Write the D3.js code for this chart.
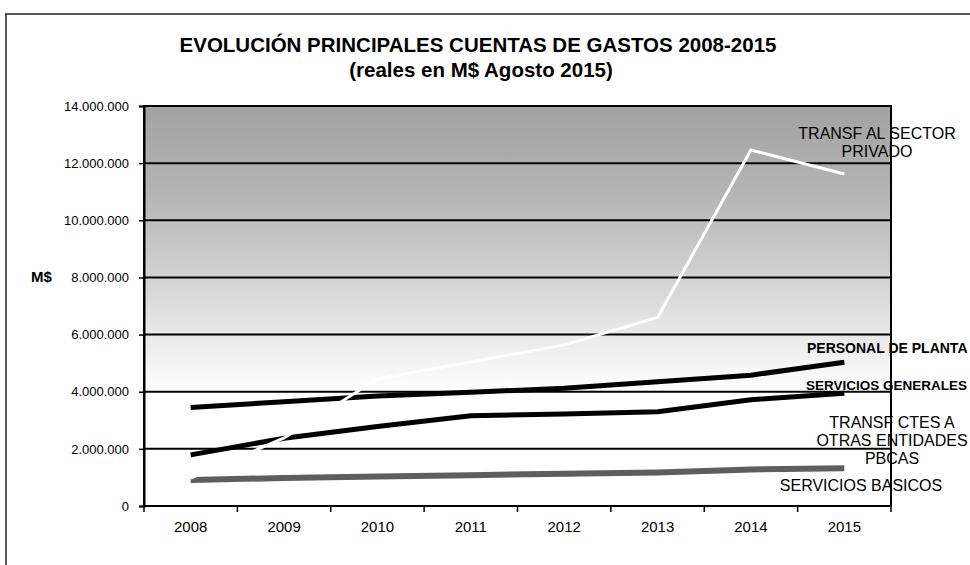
<!DOCTYPE html>
<html>
<head>
<meta charset="utf-8">
<script src="https://cdn.jsdelivr.net/npm/d3@7"></script>
<style>
  body { margin: 0; background: #fff; }
  text { font-family: "Liberation Sans", Arial, sans-serif; fill: #000; }
</style>
</head>
<body>
<svg id="chart"></svg>
<script>
// Data (M$ reales Agosto 2015).
const years = ['2008', '2009', '2010', '2011', '2012', '2013', '2014', '2015'];
const transfPrivado = [980000, 2380000, 4450000, 5040000, 5640000, 6600000, 12460000, 11620000];
const personalPlanta = [3450000, 3650000, 3850000, 3980000, 4120000, 4350000, 4580000, 5030000];
const serviciosGenerales = [1790000, 2370000, 2780000, 3160000, 3220000, 3300000, 3720000, 3950000];
const serviciosBasicos = [910000, 980000, 1030000, 1080000, 1130000, 1170000, 1280000, 1320000];
const yTicks = [0, 2000000, 4000000, 6000000, 8000000, 10000000, 12000000, 14000000];

const width = 970, height = 565;
const plot = { left: 144, right: 891, top: 106, bottom: 506 };

const svg = d3.select('#chart').attr('width', width).attr('height', height);

// Number format with dots as thousands separator.
const fmt = d3.formatLocale({ decimal: ',', thousands: '.', grouping: [3], currency: ['$', ''] }).format(',d');

// Scales.
const xScale = d3.scaleBand().domain(years).range([plot.left, plot.right]).padding(0);
const yScale = d3.scaleLinear().domain([0, 14000000]).range([plot.bottom, plot.top]);
const xMid = d => xScale(d) + xScale.bandwidth() / 2;

// Page frame (scan border).
svg.append('line').attr('x1', 5).attr('x2', width).attr('y1', 14).attr('y2', 14)
  .attr('stroke', '#222').attr('stroke-width', 1.5);
svg.append('line').attr('x1', 6).attr('x2', 6).attr('y1', 14).attr('y2', height)
  .attr('stroke', '#222').attr('stroke-width', 1.5);

// Background gradient, grey at the top fading to white at 4.000.000.
const grad = svg.append('defs').append('linearGradient')
  .attr('id', 'bg').attr('gradientUnits', 'userSpaceOnUse')
  .attr('x1', 0).attr('x2', 0).attr('y1', plot.top).attr('y2', plot.bottom);
const off = v => (yScale(v) - plot.top) / (plot.bottom - plot.top);
[[14000000, '#a2a2a2'], [11000000, '#b4b4b4'], [8000000, '#d2d2d2'], [5000000, '#f4f4f4'], [4000000, '#ffffff'], [0, '#ffffff']]
  .forEach(([v, c]) => grad.append('stop').attr('offset', off(v)).attr('stop-color', c));

svg.append('rect')
  .attr('x', plot.left).attr('y', plot.top)
  .attr('width', plot.right - plot.left).attr('height', plot.bottom - plot.top)
  .attr('fill', 'url(#bg)');

// Gridlines.
svg.append('g')
  .selectAll('line')
  .data(yTicks)
  .join('line')
  .attr('x1', plot.left).attr('x2', plot.right)
  .attr('y1', d => yScale(d)).attr('y2', d => yScale(d))
  .attr('stroke', '#000').attr('stroke-width', 2);

// Plot border.
svg.append('rect')
  .attr('x', plot.left).attr('y', plot.top)
  .attr('width', plot.right - plot.left).attr('height', plot.bottom - plot.top)
  .attr('fill', 'none').attr('stroke', '#000').attr('stroke-width', 2);

// Y-Axis.
const yAxis = svg.append('g')
  .attr('transform', `translate(${plot.left},0)`)
  .call(d3.axisLeft(yScale).tickValues(yTicks).tickFormat(fmt).tickSize(5).tickPadding(10));
yAxis.select('.domain').attr('stroke-width', 2);
yAxis.selectAll('.tick line').attr('stroke-width', 1.5);
yAxis.selectAll('text').attr('font-size', 13).attr('font-family', '"Liberation Sans", Arial, sans-serif');

// X-Axis: labels at band centres, ticks at band edges.
const xAxis = svg.append('g')
  .attr('transform', `translate(0,${plot.bottom})`)
  .call(d3.axisBottom(xScale).tickSize(0).tickPadding(15));
xAxis.select('.domain').remove();
xAxis.selectAll('text').attr('font-size', 15).attr('font-family', '"Liberation Sans", Arial, sans-serif');
svg.append('g')
  .selectAll('line')
  .data(years.concat(['end']))
  .join('line')
  .attr('x1', d => d === 'end' ? plot.right : xScale(d))
  .attr('x2', d => d === 'end' ? plot.right : xScale(d))
  .attr('y1', plot.bottom).attr('y2', plot.bottom + 6)
  .attr('stroke', '#000').attr('stroke-width', 1.5);

// Lines.
const line = d3.line().x((d, i) => xMid(years[i])).y(d => yScale(d));
const series = [
  { values: serviciosBasicos, color: '#5e5e5e', width: 6 },
  { values: serviciosGenerales, color: '#000', width: 5 },
  { values: personalPlanta, color: '#000', width: 5 },
  { values: transfPrivado, color: '#fff', width: 3 },
];
series.forEach(s => {
  svg.append('path')
    .datum(s.values)
    .attr('fill', 'none')
    .attr('stroke', s.color)
    .attr('stroke-width', s.width)
    .attr('stroke-linejoin', 'miter')
    .attr('d', line);
});

// Title.
svg.append('text')
  .attr('x', 478).attr('y', 52)
  .attr('text-anchor', 'middle').attr('font-size', 20.5).attr('font-weight', 'bold')
  .text('EVOLUCIÓN PRINCIPALES CUENTAS DE GASTOS 2008-2015');
svg.append('text')
  .attr('x', 481).attr('y', 77)
  .attr('text-anchor', 'middle').attr('font-size', 20.5).attr('font-weight', 'bold')
  .text('(reales en M$ Agosto 2015)');

// Y-axis title.
svg.append('text')
  .attr('x', 31).attr('y', yScale(8000000) + 5)
  .attr('font-size', 15).attr('font-weight', 'bold')
  .text('M$');

// Series labels.
const labels = [
  { lines: ['TRANSF AL SECTOR', 'PRIVADO'], x: 877, y: 139, bold: false, size: 16, anchor: 'middle' },
  { lines: ['PERSONAL DE PLANTA'], x: 807, y: 353, bold: true, size: 14, anchor: 'start' },
  { lines: ['SERVICIOS GENERALES'], x: 806, y: 390, bold: true, size: 13.5, anchor: 'start' },
  { lines: ['TRANSF CTES A', 'OTRAS ENTIDADES', 'PBCAS'], x: 892, y: 428, bold: false, size: 16, anchor: 'middle' },
  { lines: ['SERVICIOS BASICOS'], x: 861, y: 491, bold: false, size: 16, anchor: 'middle' },
];
labels.forEach(l => {
  const t = svg.append('text')
    .attr('x', l.x).attr('y', l.y)
    .attr('text-anchor', l.anchor)
    .attr('font-size', l.size)
    .attr('font-weight', l.bold ? 'bold' : 'normal');
  l.lines.forEach((s, i) => {
    t.append('tspan').attr('x', l.x).attr('dy', i === 0 ? 0 : 18).text(s);
  });
});
</script>
</body>
</html>
